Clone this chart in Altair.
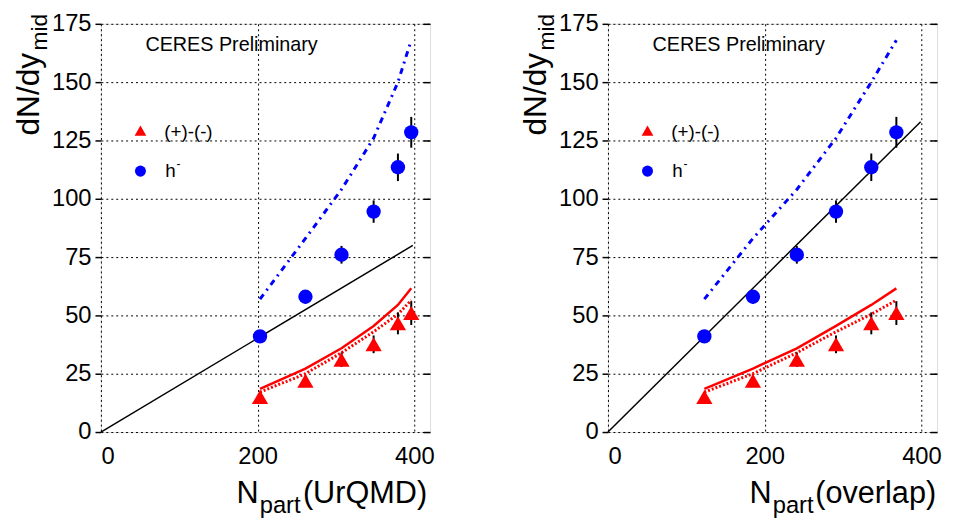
import altair as alt
import pandas as pd

# ---------------- data ----------------
npart_urqmd = [203, 261, 307, 348, 379, 396]
npart_overlap = [123, 185, 241, 291, 336, 368]

hminus = [41, 58, 76, 94.5, 113.5, 128.5]
hminus_err = [2.0, 2.9, 3.8, 4.8, 5.9, 6.6]
netcharge = [15, 22, 31, 37.6, 46.6, 51]
netcharge_err = [1.5, 2.2, 3.1, 3.8, 4.7, 5.1]

model_h = [57, 83, 104, 126, 150, 168]              # blue dash-dot
model_net = [18.5, 27.2, 35.9, 45.5, 54.5, 61.6]    # red solid
model_net_dotted = [17.1, 25, 34, 43, 50.5, 56.5]   # red dotted

scaling_urqmd_x = [0, 398]
scaling_urqmd_y = [0, 80]
scaling_overlap_x = [0, 399]
scaling_overlap_y = [0, 133]

x_ticks = [0, 200, 400]
y_ticks = [0, 25, 50, 75, 100, 125, 150, 175]
series_names = ["(+)-(-)", "h"]
series_colors = ["#ff0000", "#0000ff"]
series_shapes = ["triangle-up", "circle"]
series_sizes = [270, 210]

# ---------------- layout ----------------
W, H = 333, 413
FONT = "Liberation Sans"


def text_layer(txt, x, y, size, align="left", baseline="alphabetic", angle=0):
    return alt.Chart(pd.DataFrame({"label": [txt]})).mark_text(
        font=FONT, fontSize=size, align=align, baseline=baseline,
        angle=angle, color="black"
    ).encode(text="label:N", x=alt.value(x), y=alt.value(y))


def legend_symbol(shape, color, size, x, y):
    return alt.Chart(pd.DataFrame({"s": [shape]})).mark_point(
        filled=True, opacity=1, shape=shape, color=color, size=size
    ).encode(x=alt.value(x), y=alt.value(y))


def panel(npart, sx, sy, xlab, xlab_right, part_right, n_right):
    xs = alt.Scale(domain=[0, 420], nice=False, zero=False)
    ys = alt.Scale(domain=[0, 175], nice=False, zero=False)
    xaxis = alt.Axis(values=x_ticks, grid=True, ticks=False, domain=False,
                     labelFontSize=24, labelPadding=13, title=None, format="d",
                     labelFont=FONT, labelColor="black",
                     gridDash=[2, 3], gridColor="black", gridWidth=1)
    yaxis_left = alt.Axis(values=y_ticks, grid=True, ticks=True, tickSize=6,
                          tickWidth=1.5, tickColor="black", domain=False,
                          labelFontSize=24, labelPadding=4, title=None,
                          format="d", labelFont=FONT, labelColor="black",
                          gridDash=[2, 3], gridColor="black", gridWidth=1)
    yaxis_right = alt.Axis(values=y_ticks, orient="right", offset=-7,
                           grid=False, ticks=True, tickSize=7, tickWidth=1.5,
                           tickColor="black", domain=False, labels=False,
                           title=None)

    scal = pd.DataFrame({"x": sx, "y": sy})
    mh = pd.DataFrame({"x": npart, "y": model_h})
    mn = pd.DataFrame({"x": npart, "y": model_net})
    mnd = pd.DataFrame({"x": npart, "y": model_net_dotted})
    pts = pd.DataFrame({
        "x": list(npart) * 2,
        "y": netcharge + hminus,
        "err": netcharge_err + hminus_err,
        "series": [series_names[0]] * len(npart) + [series_names[1]] * len(npart),
    })
    pts["lo"] = pts["y"] - pts["err"]
    pts["hi"] = pts["y"] + pts["err"]

    scal_l = alt.Chart(scal).mark_line(color="black", strokeWidth=1.5).encode(
        x=alt.X("x:Q", scale=xs, axis=xaxis),
        y=alt.Y("y:Q", scale=ys, axis=yaxis_left))
    mh_l = alt.Chart(mh).mark_line(color="#0000ff", strokeWidth=3,
                                   strokeDash=[6, 5, 2, 5]).encode(
        x=alt.X("x:Q", scale=xs, axis=xaxis),
        y=alt.Y("y:Q", scale=ys, axis=None))
    mn_l = alt.Chart(mn).mark_line(color="#ff0000", strokeWidth=2.5).encode(
        x=alt.X("x:Q", scale=xs, axis=xaxis),
        y=alt.Y("y:Q", scale=ys, axis=None))
    mnd_l = alt.Chart(mnd).mark_line(color="#ff0000", strokeWidth=3,
                                     strokeDash=[2, 2]).encode(
        x=alt.X("x:Q", scale=xs, axis=xaxis),
        y=alt.Y("y:Q", scale=ys, axis=None))
    err_l = alt.Chart(pts).mark_rule(color="black", strokeWidth=2).encode(
        x=alt.X("x:Q", scale=xs, axis=xaxis),
        y=alt.Y("lo:Q", scale=ys, axis=yaxis_right),
        y2="hi:Q")
    pt_l = alt.Chart(pts).mark_point(filled=True, opacity=1).encode(
        x=alt.X("x:Q", scale=xs, axis=xaxis),
        y=alt.Y("y:Q", scale=ys, axis=None),
        color=alt.Color("series:N",
                        scale=alt.Scale(domain=series_names, range=series_colors),
                        legend=None),
        shape=alt.Shape("series:N",
                        scale=alt.Scale(domain=series_names, range=series_shapes),
                        legend=None),
        size=alt.Size("series:N",
                      scale=alt.Scale(domain=series_names, range=series_sizes),
                      legend=None),
    )

    legend = [
        legend_symbol(series_shapes[0], series_colors[0], 140, 40, 108),
        legend_symbol(series_shapes[1], series_colors[1], 125, 40, 149),
        text_layer(series_names[0], 64, 110, 19, baseline="middle"),
        text_layer(series_names[1], 65, 155, 19),
        text_layer("-", 76.5, 142, 12, baseline="middle"),
    ]

    texts = [
        text_layer("CERES Preliminary", 45, 21, 20, baseline="middle"),
        text_layer("dN/dy", -63, 113, 32, angle=270),
        text_layer("mid", -55, 27, 23, angle=270),
        text_layer(xlab, xlab_right, 485, 31, align="right"),
        text_layer("part", part_right, 495, 24, align="right"),
        text_layer("N", n_right, 485, 31, align="right"),
    ]

    return alt.layer(scal_l, mh_l, mn_l, mnd_l, err_l, pt_l, *legend,
                     *texts).resolve_axis(y="independent").properties(
        width=W, height=H)


left = panel(npart_urqmd, scaling_urqmd_x, scaling_urqmd_y,
             "(UrQMD)", 330, 202, 159.5)
right = panel(npart_overlap, scaling_overlap_x, scaling_overlap_y,
              "(overlap)", 332, 208, 165.6)

chart = alt.hconcat(left, right, spacing=180, bounds="flush").properties(
    padding={"left": 4, "top": 0, "right": 5, "bottom": 0}
).configure_view(stroke="black", strokeWidth=2).configure(font=FONT)

chart.save("out.html", embed_options={"renderer": "svg", "actions": False})
